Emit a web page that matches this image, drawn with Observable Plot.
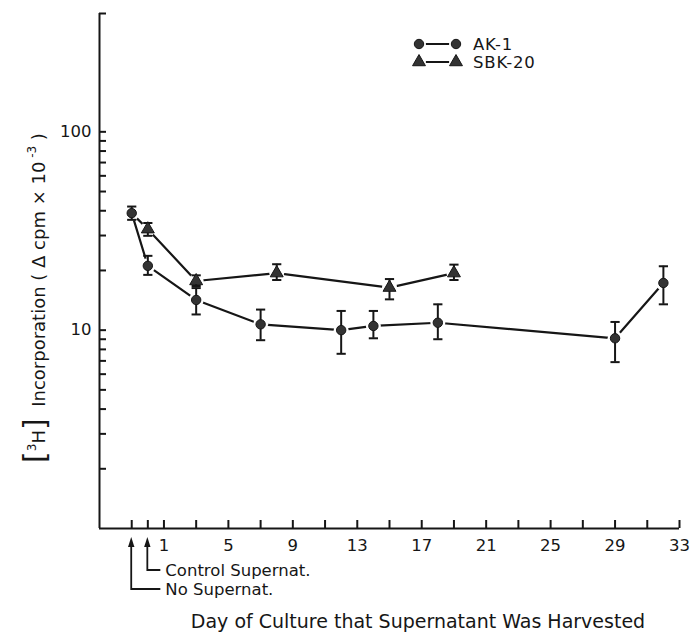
<!DOCTYPE html>
<html><head><meta charset="utf-8">
<script src="https://cdn.jsdelivr.net/npm/d3@7"></script>
<script src="https://cdn.jsdelivr.net/npm/@observablehq/plot@0.6"></script>
<style>body{margin:0;background:#fff}#chart{width:692px;height:633px}</style>
</head><body><div id="chart"></div>
<script>
// ---- data ----
const akDays   = [-1, 0, 3, 7, 12, 14, 18, 29, 32];
const akValues = [38.9, 21.1, 14.2, 10.7, 10.0, 10.5, 10.9, 9.1, 17.3];
const akLow    = [36.0, 19.0, 12.0, 8.9, 7.6, 9.1, 9.0, 6.9, 13.5];
const akHigh   = [42.0, 23.7, 16.3, 12.7, 12.5, 12.5, 13.5, 11.0, 21.0];

const sbkDays   = [0, 3, 8, 15, 19];
const sbkValues = [32.3, 17.7, 19.4, 16.4, 19.4];
const sbkLow    = [29.9, 16.7, 17.9, 14.3, 17.9];
const sbkHigh   = [34.7, 18.9, 21.5, 18.1, 21.4];

const xTickMarks  = [-1, 0, 1, 3, 5, 7, 9, 11, 13, 15, 17, 19, 21, 23, 25, 27, 29, 31, 33];
const xTickLabels = [1, 5, 9, 13, 17, 21, 25, 29, 33];
const xDomain     = [-3, 33];
const yTickMarks  = [2, 3, 4, 5, 6, 7, 8, 9, 10, 20, 30, 40, 50, 60, 70, 80, 90, 100, 395];
const yTickLabels = [10, 100];
const yDomain     = [1, 395];

const seriesNames = ["AK-1", "SBK-20"];
const annotationDays  = [-1, 0];
const annotationTexts = ["No Supernat.", "Control Supernat."];
const xTitle = "Day of Culture that Supernatant Was Harvested";

// ---- tables ----
const ak  = akDays.map((d, i) => ({day: d, value: akValues[i], lo: akLow[i], hi: akHigh[i]}));
const sbk = sbkDays.map((d, i) => ({day: d, value: sbkValues[i], lo: sbkLow[i], hi: sbkHigh[i]}));
const sbkLine = [ak[0], ...sbk]; // SBK-20 curve starts from the "No Supernat." point

const ink = "#161616";
const markerFill = "#333";
const font = "DejaVu Sans";

const W = 692, H = 633, mL = 99, mR = 13, mT = 13, mB = 105;
const frameW = W - mL - mR, frameH = H - mT - mB;
const xTickLen = 8, yTickLen = 7;

const capSymbol = {draw(ctx, size) { const w = Math.sqrt(size / Math.PI); ctx.moveTo(-w, 0); ctx.lineTo(w, 0); }};

const errMarks = (data) => [
  Plot.ruleX(data, {x: "day", y1: "lo", y2: "hi", stroke: ink, strokeWidth: 2}),
  Plot.dot(data, {x: "day", y: "lo", symbol: capSymbol, r: 4.6, stroke: ink, strokeWidth: 2, fill: "none"}),
  Plot.dot(data, {x: "day", y: "hi", symbol: capSymbol, r: 4.6, stroke: ink, strokeWidth: 2, fill: "none"})
];

const plot = Plot.plot({
  width: W, height: H,
  marginLeft: mL, marginRight: mR, marginTop: mT, marginBottom: mB,
  style: {fontFamily: font, background: "#fff"},
  x: {type: "linear", domain: xDomain, axis: null},
  y: {type: "log", domain: yDomain, axis: null},
  marks: [
    Plot.ruleY([yDomain[0]], {stroke: ink, strokeWidth: 2}),
    Plot.ruleX([xDomain[0]], {stroke: ink, strokeWidth: 2}),
    Plot.tickX(xTickMarks, {x: d => d, insetTop: frameH - xTickLen, stroke: ink, strokeWidth: 2}),
    Plot.tickY(yTickMarks, {y: d => d, insetRight: frameW - yTickLen, stroke: ink, strokeWidth: 2}),
    Plot.text(xTickLabels, {x: d => d, frameAnchor: "bottom", lineAnchor: "top", dy: 11, text: d => String(d), fontSize: 16.5, fill: ink}),
    Plot.text(yTickLabels, {y: d => d, frameAnchor: "left", textAnchor: "end", dx: -8, text: d => String(d), fontSize: 16.5, fill: ink}),
    Plot.line(ak, {x: "day", y: "value", stroke: ink, strokeWidth: 2.2}),
    Plot.line(sbkLine, {x: "day", y: "value", stroke: ink, strokeWidth: 2.2}),
    Plot.dot(ak, {x: "day", y: "value", r: 7.5, fill: "#fff"}),
    Plot.dot(sbk, {x: "day", y: "value", r: 7.5, fill: "#fff"}),
    ...errMarks(ak),
    ...errMarks(sbk),
    Plot.dot(ak, {x: "day", y: "value", r: 4.7, fill: markerFill, stroke: ink, strokeWidth: 1}),
    Plot.dot(sbk, {x: "day", y: "value", symbol: "triangle", r: 4.8, fill: markerFill, stroke: ink, strokeWidth: 1})
  ]
});

document.getElementById("chart").appendChild(plot);

// ---- annotations, legend, axis titles (positions from Plot's scales) ----
const svg = d3.select(plot);
const xs = plot.scale("x");
const yBase = plot.scale("y").apply(yDomain[0]);
const g = svg.append("g").attr("font-family", font).attr("fill", ink).attr("text-anchor", "start");

// arrows under the axis
const rowY = [589, 570];
const textX = xs.apply(annotationDays[1]) + 18;
annotationDays.forEach((d, i) => {
  const px = xs.apply(d);
  const tipY = yBase + 9;
  g.append("path").attr("d", `M${px},${tipY + 8}V${rowY[i]}H${textX - 5}`)
    .attr("stroke", ink).attr("stroke-width", 1.8).attr("fill", "none");
  g.append("path").attr("d", `M${px},${tipY}L${px - 3.2},${tipY + 10}L${px + 3.2},${tipY + 10}Z`).attr("fill", ink);
  g.append("text").attr("x", textX).attr("y", rowY[i]).attr("dy", "0.35em")
    .attr("text-anchor", "start").attr("font-size", 16.5).text(annotationTexts[i]);
});

// x-axis title
g.append("text").attr("x", 418).attr("y", 621).attr("dy", "0.35em").attr("text-anchor", "middle")
  .attr("font-size", 19).text(xTitle);

// y-axis title
const yt = g.append("text").attr("transform", "translate(34,298) rotate(-90)")
  .attr("text-anchor", "middle").attr("font-size", 18);
yt.append("tspan").attr("font-size", 30).attr("dy", "0.35em").text("[");
yt.append("tspan").attr("font-size", 12).attr("dy", -9).text("3");
yt.append("tspan").attr("dy", 9).text("H");
yt.append("tspan").attr("font-size", 30).text("]");
yt.append("tspan").text("  Incorporation ( Δ cpm × 10");
yt.append("tspan").attr("font-size", 12).attr("dy", -9).text(" -3");
yt.append("tspan").attr("dy", 9).text(" )");

// legend
const legY = [44, 62];
const legX = [419, 456];
seriesNames.forEach((name, i) => {
  g.append("line").attr("x1", legX[0]).attr("x2", legX[1]).attr("y1", legY[i]).attr("y2", legY[i])
    .attr("stroke", ink).attr("stroke-width", 2);
  legX.forEach(lx => {
    g.append("circle").attr("cx", lx).attr("cy", legY[i]).attr("r", 7).attr("fill", "#fff");
    if (i === 0) {
      g.append("circle").attr("cx", lx).attr("cy", legY[i]).attr("r", 4.7).attr("fill", markerFill).attr("stroke", ink);
    } else {
      g.append("path").attr("transform", `translate(${lx},${legY[i]})`)
        .attr("d", d3.symbol(d3.symbolTriangle, Math.PI * 4.8 * 4.8)()).attr("fill", markerFill).attr("stroke", ink);
    }
  });
  g.append("text").attr("x", 473).attr("y", legY[i]).attr("dy", "0.35em").attr("font-size", 16.5)
    .attr("text-anchor", "start").attr("letter-spacing", 0.8).text(name);
});
</script>
</body></html>
